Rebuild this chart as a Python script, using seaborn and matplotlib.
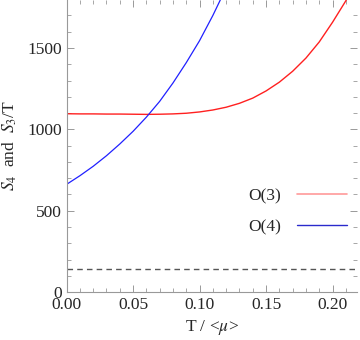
import pandas as pd
import seaborn as sns
import matplotlib
matplotlib.use("Agg")
import matplotlib.pyplot as plt
from matplotlib.lines import Line2D
from matplotlib.ticker import MultipleLocator

# O(3) curve (red)
o3_T = [0.000, 0.010, 0.020, 0.030, 0.040, 0.050, 0.060, 0.070, 0.080, 0.090,
        0.100, 0.110, 0.120, 0.130, 0.140, 0.150, 0.160, 0.170, 0.180, 0.190,
        0.200, 0.210, 0.215]
o3_S = [1096, 1095, 1095, 1094, 1094, 1093, 1092, 1093, 1095, 1099,
        1107, 1119, 1136, 1160, 1192, 1236, 1290, 1357, 1438, 1537,
        1658, 1790, 1862]

# O(4) curve (blue)
o4_T = [0.000, 0.010, 0.020, 0.030, 0.040, 0.050, 0.060, 0.070, 0.080, 0.090,
        0.100, 0.110, 0.120]
o4_S = [662, 715, 773, 838, 910, 988, 1075, 1172, 1285, 1410,
        1545, 1700, 1870]

# horizontal dashed reference level
ref_level = 140

sns.set_style("ticks")
plt.rcParams["font.family"] = ["Liberation Serif", "DejaVu Serif"]
plt.rcParams["mathtext.fontset"] = "stix"

df3 = pd.DataFrame({"T": o3_T, "S": o3_S})
df4 = pd.DataFrame({"T": o4_T, "S": o4_S})

fig = plt.figure(figsize=(3.6, 3.4), dpi=100)
ax = fig.add_axes([0.185, 0.141, 0.807, 0.859])

sns.lineplot(data=df3, x="T", y="S", color="#ff2020", lw=1.0, ax=ax)
sns.lineplot(data=df4, x="T", y="S", color="#2020ff", lw=0.9, ax=ax)
ax.axhline(ref_level, color="#555555", lw=1.0, ls=(0, (4, 3)))

ax.set_xlim(0, 0.2185)
ax.set_ylim(0, 1795)

ax.xaxis.set_major_locator(MultipleLocator(0.05))
ax.xaxis.set_minor_locator(MultipleLocator(0.01))
ax.yaxis.set_major_locator(MultipleLocator(500))
ax.yaxis.set_minor_locator(MultipleLocator(100))
ax.xaxis.set_major_formatter(matplotlib.ticker.FormatStrFormatter("%.2f"))

for s in ["top", "right"]:
    ax.spines[s].set_visible(False)
for s in ["left", "bottom"]:
    ax.spines[s].set_color("#999999")
    ax.spines[s].set_linewidth(0.8)

ax.tick_params(which="both", direction="in", top=True, right=True,
               color="#999999", labelsize=12.5)
ax.tick_params(which="major", length=5, width=0.7)
ax.tick_params(which="minor", length=3, width=0.6)

ax.set_xlabel("T / <$\\mu$>", fontsize=12.5, labelpad=4)
ax.set_ylabel("$S_4$  and  $S_3$/T", fontsize=12.5, labelpad=6)

handles = [Line2D([], [], color="#ff9a9a", lw=1.2),
           Line2D([], [], color="#2a2acc", lw=1.0)]
ax.legend(handles, ["O(3)", "O(4)"], markerfirst=False, frameon=False,
          loc="upper right", bbox_to_anchor=(1.02, 0.41), fontsize=12.5,
          handlelength=2.9, handletextpad=0.9, labelspacing=0.85)

fig.savefig("out.png", dpi=100)
